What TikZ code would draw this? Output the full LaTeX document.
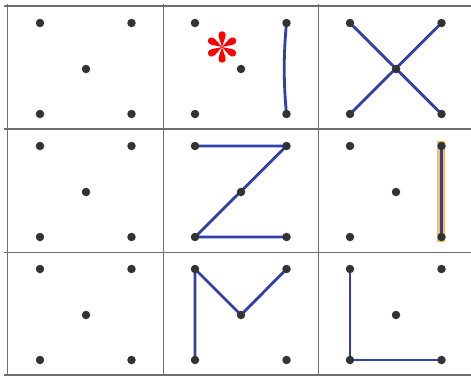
\documentclass[tikz,border=0pt]{standalone}
\usepackage{tikz}
\definecolor{frameGray}{HTML}{6E6E6E}
\definecolor{dotGray}{HTML}{333333}
\definecolor{penBlue}{HTML}{3040A8}
\definecolor{penDark}{HTML}{4A3A78}
\definecolor{hiOrange}{HTML}{F4C356}
\definecolor{astRed}{HTML}{FF0000}
\pgfdeclarelayer{paper}
\pgfdeclarelayer{ink}
\pgfsetlayers{paper,ink,main}

\begin{document}
\begin{tikzpicture}[
  x=1pt, y=-1pt,
  dot/.style    ={circle, fill=dotGray, inner sep=0pt, minimum size=8.5pt},
  frame/.style  ={frameGray, line width=1.2pt},
  pen/.style    ={penBlue, line width=2.8pt, line cap=round},
  hilite/.style ={hiOrange, line width=8pt, shorten <=-5pt, shorten >=-5pt},
  petal/.style  ={fill=astRed}]
  \useasboundingbox (0,0) rectangle (471,376);
  \begin{pgfonlayer}{paper}
    \fill[white] (0,0) rectangle (471,376);
  \end{pgfonlayer}
  % frame of the nine cells
  \foreach \y in {6,129,252.5,375} \draw[frame] (4,\y) -- (471,\y);
  \foreach \x in {7.5,163.3,318.3} \draw[frame] (\x,4) -- (\x,376);
  % five dots per cell
  \foreach \c in {0,1,2} {
    \foreach \r in {0,1,2} {
      \node[dot] (d\c\r-tl) at ({40+155*\c},{23+123*\r}) {};
      \node[dot] (d\c\r-tr) at ({131.5+155*\c},{23+123*\r}) {};
      \node[dot] (d\c\r-c)  at ({86+155*\c},{69+123*\r}) {};
      \node[dot] (d\c\r-bl) at ({40+155*\c},{114+123*\r}) {};
      \node[dot] (d\c\r-br) at ({131.5+155*\c},{114+123*\r}) {};
    }
  }
  % pen strokes
  \begin{pgfonlayer}{ink}
    \draw[pen] (d10-tr.center) .. controls +(-3,30) and +(-3,-30) .. (d10-br.center);
    \draw[pen] (d20-tl.center) -- (d20-br.center);
    \draw[pen] (d20-tr.center) -- (d20-bl.center);
    \draw[pen] (d11-tl.center) -- (d11-tr.center) -- (d11-bl.center) -- (d11-br.center);
    \draw[hilite] ([xshift=-1pt]d21-tr.center) -- ([xshift=-1pt]d21-br.center);
    \draw[pen, penDark] (d21-tr.center) -- (d21-br.center);
    \draw[pen] (d12-bl.center) -- (d12-tl.center) -- (d12-c.center) -- (d12-tr.center);
    \draw[pen] (d22-tl.center) -- (d22-bl.center) -- (d22-br.center);
  \end{pgfonlayer}
  % red asterisk
  \coordinate (ast) at (222,47);
  \foreach \a in {90,30,-30,-90,-150,150}
    \fill[petal, shift={(ast)}, rotate=\a]
      (0,0) .. controls (5,-1.2) and (9,-3.7) .. (12.5,-3.5)
      .. controls (16.8,-3.2) and (16.8,3.2) .. (12.5,3.5)
      .. controls (9,3.7) and (5,1.2) .. (0,0) -- cycle;
\end{tikzpicture}
\end{document}
